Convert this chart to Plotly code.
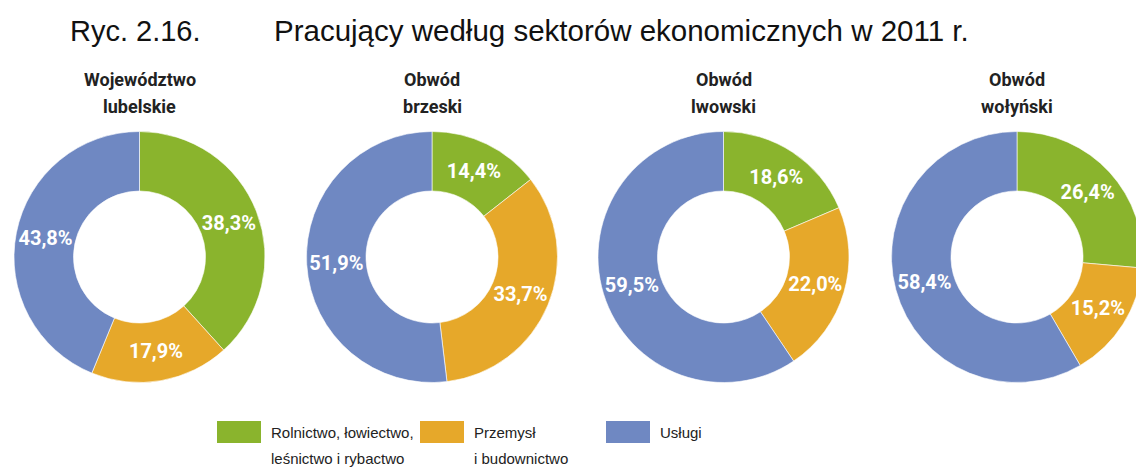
import plotly.graph_objects as go

# ---- data ----
sectors = ["Rolnictwo, łowiectwo,<br>leśnictwo i rybactwo", "Przemysł<br>i budownictwo", "Usługi"]
regions = ["Województwo<br>lubelskie", "Obwód<br>brzeski", "Obwód<br>lwowski", "Obwód<br>wołyński"]
v_lubelskie = [38.3, 17.9, 43.8]
v_brzeski = [14.4, 33.7, 51.9]
v_lwowski = [18.6, 22.0, 59.5]
v_wolynski = [26.4, 15.2, 58.4]
series = [v_lubelskie, v_brzeski, v_lwowski, v_wolynski]
colors = ["#8AB42D", "#E6A82A", "#6F88C2"]

# ---- geometry ----
W, H = 1144, 468
centers_x = [139.5, 432, 723.5, 1017]
cy, R = 257, 125.5

BOLDF = "Roboto, Liberation Sans, Arial, sans-serif"
TITLEF = "Liberation Sans, Arial, sans-serif"

fig = go.Figure()
for cx, vals, name in zip(centers_x, series, regions):
    fig.add_trace(go.Pie(
        labels=sectors,
        values=vals,
        text=[f"{v:.1f}%".replace(".", ",") for v in vals],
        textinfo="text",
        textposition="inside",
        insidetextorientation="horizontal",
        textfont=dict(family=BOLDF, size=20, color="white", weight="bold"),
        hole=0.526,
        sort=False,
        direction="clockwise",
        rotation=0,
        marker=dict(colors=colors, line=dict(color="white", width=0.6)),
        domain=dict(x=[(cx - R) / W, (cx + R) / W],
                    y=[(H - cy - R) / H, (H - cy + R) / H]),
        showlegend=False,
        hoverinfo="label+text",
        name=name.replace("<br>", " "),
    ))
    for i, line in enumerate(name.split("<br>")):
        fig.add_annotation(
            x=cx / W, y=(H - 80 - 27 * i) / H, xref="paper", yref="paper",
            text=f"<b>{line}</b>", showarrow=False,
            font=dict(family=BOLDF, size=18, color="#222222"),
            xanchor="center", yanchor="middle",
        )

# title
fig.add_annotation(x=68 / W, y=(H - 31) / H, xref="paper", yref="paper",
                   text="Ryc. 2.16.", showarrow=False, xanchor="left", yanchor="middle",
                   font=dict(family=TITLEF, size=29, color="#111111"))
fig.add_annotation(x=272 / W, y=(H - 31) / H, xref="paper", yref="paper",
                   text="Pracujący według sektorów ekonomicznych w 2011 r.", showarrow=False,
                   xanchor="left", yanchor="middle",
                   font=dict(family=TITLEF, size=29.5, color="#111111"))

# custom legend
legend_x = [217, 420, 606]
for lx, lab, col in zip(legend_x, sectors, colors):
    fig.add_shape(type="rect", xref="paper", yref="paper",
                  x0=lx / W, x1=(lx + 44) / W, y0=(H - 443) / H, y1=(H - 421) / H,
                  fillcolor=col, line=dict(width=0))
    for i, line in enumerate(lab.split("<br>")):
        fig.add_annotation(x=(lx + 52) / W, y=(H - 432 - 26 * i) / H, xref="paper", yref="paper",
                           text=line, showarrow=False, xanchor="left", yanchor="middle",
                           font=dict(family=TITLEF, size=15, color="#222222"))

fig.update_layout(
    width=W, height=H,
    margin=dict(l=0, r=0, t=0, b=0),
    paper_bgcolor="white",
    uniformtext=dict(minsize=20, mode="show"),
)

fig.write_html("out.html", config={"displayModeBar": False},
               post_script="document.body.style.margin='0';document.body.style.overflow='hidden';")
